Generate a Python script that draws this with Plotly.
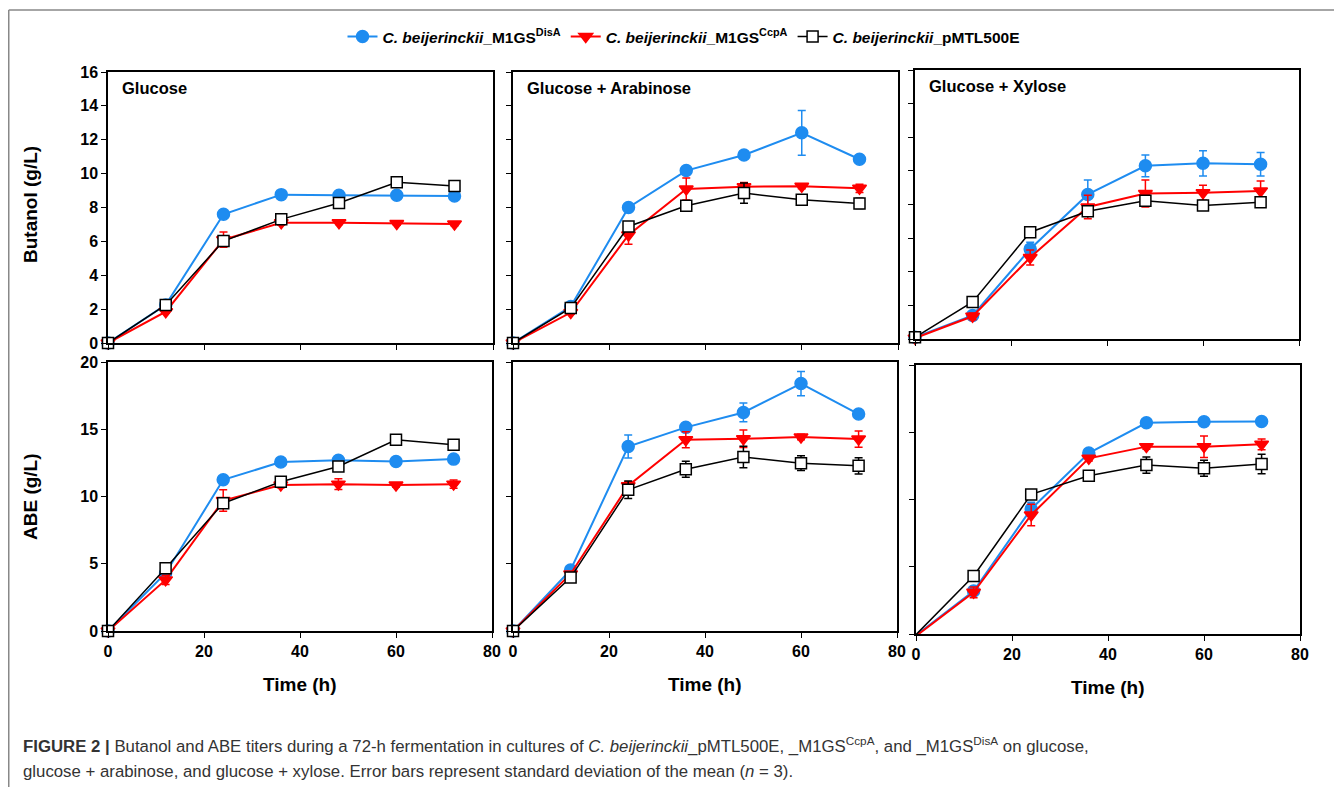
import plotly.graph_objects as go

# ---------------- data ----------------
time_h = [0, 12, 24, 36, 48, 60, 72]
strains = ["DisA", "CcpA", "pMTL500E"]
legend_names = [
    "<b><i>C. beijerinckii</i>_M1GS<sup>DisA</sup></b>",
    "<b><i>C. beijerinckii</i>_M1GS<sup>CcpA</sup></b>",
    "<b><i>C. beijerinckii</i>_pMTL500E</b>",
]
panel_titles = ["Glucose", "Glucose + Arabinose", "Glucose + Xylose"]

# Butanol (g/L)
but_glc_disa = [0, 2.25, 7.6, 8.76, 8.72, 8.72, 8.68]
but_glc_disa_sd = [0, 0.1, 0.15, 0.15, 0.2, 0.2, 0.2]
but_glc_ccpa = [0, 1.85, 6.1, 7.1, 7.1, 7.05, 7.02]
but_glc_ccpa_sd = [0, 0.1, 0.45, 0.15, 0.1, 0.1, 0.1]
but_glc_pmtl = [0, 2.25, 6.02, 7.3, 8.27, 9.49, 9.27]
but_glc_pmtl_sd = [0, 0.1, 0.2, 0.1, 0.1, 0.1, 0.15]

but_ara_disa = [0, 2.15, 8.0, 10.18, 11.1, 12.41, 10.85]
but_ara_disa_sd = [0, 0.1, 0.1, 0.15, 0.1, 1.32, 0.1]
but_ara_ccpa = [0, 1.8, 6.38, 9.09, 9.23, 9.25, 9.13]
but_ara_ccpa_sd = [0, 0.1, 0.55, 0.65, 0.25, 0.15, 0.25]
but_ara_pmtl = [0, 2.07, 6.88, 8.1, 8.85, 8.46, 8.24]
but_ara_pmtl_sd = [0, 0.1, 0.2, 0.3, 0.6, 0.15, 0.3]

but_xyl_disa = [0.1, 1.4, 5.35, 8.6, 10.3, 10.45, 10.4]
but_xyl_disa_sd = [0, 0.1, 0.4, 0.85, 0.65, 0.75, 0.7]
but_xyl_ccpa = [0.05, 1.35, 4.85, 7.85, 8.65, 8.7, 8.8]
but_xyl_ccpa_sd = [0, 0.2, 0.45, 0.7, 0.8, 0.45, 0.6]
but_xyl_pmtl = [0.1, 2.2, 6.35, 7.6, 8.22, 7.94, 8.14]
but_xyl_pmtl_sd = [0, 0.1, 0.1, 0.15, 0.3, 0.15, 0.25]

# ABE (g/L)
abe_glc_disa = [0, 4.3, 11.24, 12.56, 12.7, 12.6, 12.78]
abe_glc_disa_sd = [0, 0.3, 0.2, 0.15, 0.2, 0.15, 0.15]
abe_glc_ccpa = [0, 3.8, 9.7, 10.85, 10.92, 10.85, 10.92]
abe_glc_ccpa_sd = [0, 0.35, 0.8, 0.2, 0.4, 0.15, 0.3]
abe_glc_pmtl = [0, 4.67, 9.5, 11.1, 12.23, 14.22, 13.85]
abe_glc_pmtl_sd = [0, 0.1, 0.15, 0.1, 0.1, 0.1, 0.1]

abe_ara_disa = [0, 4.54, 13.72, 15.14, 16.25, 18.4, 16.13]
abe_ara_disa_sd = [0, 0.1, 0.85, 0.3, 0.7, 0.9, 0.15]
abe_ara_ccpa = [0, 4.24, 10.8, 14.22, 14.29, 14.42, 14.27]
abe_ara_ccpa_sd = [0, 0.1, 0.3, 0.6, 0.65, 0.2, 0.6]
abe_ara_pmtl = [0, 3.97, 10.5, 12.03, 12.93, 12.48, 12.28]
abe_ara_pmtl_sd = [0, 0.1, 0.65, 0.6, 0.8, 0.55, 0.6]

abe_xyl_disa = [-0.1, 3.2, 9.3, 13.45, 15.7, 15.78, 15.8]
abe_xyl_disa_sd = [0, 0.2, 0.5, 0.15, 0.2, 0.2, 0.1]
abe_xyl_ccpa = [-0.15, 3.1, 8.85, 13.06, 13.93, 13.93, 14.1]
abe_xyl_ccpa_sd = [0, 0.4, 0.8, 0.2, 0.2, 0.8, 0.4]
abe_xyl_pmtl = [-0.05, 4.31, 10.38, 11.77, 12.56, 12.32, 12.64]
abe_xyl_pmtl_sd = [0, 0.1, 0.3, 0.15, 0.6, 0.6, 0.72]

butanol_ticks = [0, 2, 4, 6, 8, 10, 12, 14, 16]
abe_ticks = [0, 5, 10, 15, 20]
time_ticks = [0, 20, 40, 60, 80]

# ---------------- figure ----------------
# The page body has an 8px margin, so the figure is 8px smaller than the window
# and all layout positions are given in window pixels minus that offset.
OFF = 8
W, H = 1342 - OFF, 787 - OFF
BLUE = "#1E8CF0"
RED = "#FF0000"
BLACK = "#000000"
FONT = "Liberation Sans, Arial, sans-serif"


def px(x):
    return (x - OFF) / W


def py(y):
    return 1 - (y - OFF) / H


panels = [
    ([(but_glc_disa, but_glc_disa_sd), (but_glc_ccpa, but_glc_ccpa_sd), (but_glc_pmtl, but_glc_pmtl_sd)],
     (108, 493), (72, 343), panel_titles[0], True),
    ([(but_ara_disa, but_ara_disa_sd), (but_ara_ccpa, but_ara_ccpa_sd), (but_ara_pmtl, but_ara_pmtl_sd)],
     (513, 898), (72, 343), panel_titles[1], True),
    ([(but_xyl_disa, but_xyl_disa_sd), (but_xyl_ccpa, but_xyl_ccpa_sd), (but_xyl_pmtl, but_xyl_pmtl_sd)],
     (915, 1299), (70, 339), panel_titles[2], True),
    ([(abe_glc_disa, abe_glc_disa_sd), (abe_glc_ccpa, abe_glc_ccpa_sd), (abe_glc_pmtl, abe_glc_pmtl_sd)],
     (108, 492), (362, 631), None, False),
    ([(abe_ara_disa, abe_ara_disa_sd), (abe_ara_ccpa, abe_ara_ccpa_sd), (abe_ara_pmtl, abe_ara_pmtl_sd)],
     (513, 897), (362, 631), None, False),
    ([(abe_xyl_disa, abe_xyl_disa_sd), (abe_xyl_ccpa, abe_xyl_ccpa_sd), (abe_xyl_pmtl, abe_xyl_pmtl_sd)],
     (916, 1300), (365, 634), None, False),
]

styles = [
    dict(color=BLUE, symbol="circle", fill=BLUE, size=12, lw=2),
    dict(color=RED, symbol="triangle-down", fill=RED, size=12, lw=2),
    dict(color=BLACK, symbol="square", fill="white", size=11, lw=1.5),
]

fig = go.Figure()
layout = dict()
annotations = []

for i, (series, xd, yd, title, is_top) in enumerate(panels):
    n = i + 1
    xa = "x" if n == 1 else f"x{n}"
    ya = "y" if n == 1 else f"y{n}"
    for k, ((vals, sd), st) in enumerate(zip(series, styles)):
        fig.add_trace(go.Scatter(
            x=time_h, y=vals, xaxis=xa, yaxis=ya,
            mode="lines+markers",
            name=legend_names[k],
            legendgroup=strains[k],
            showlegend=(i == 0),
            cliponaxis=False,
            line=dict(color=st["color"], width=st["lw"]),
            marker=dict(symbol=st["symbol"], size=st["size"], color=st["fill"],
                        line=dict(color=st["color"], width=1.5)),
            error_y=dict(type="data", array=sd, visible=True, color=st["color"],
                         thickness=1.5, width=4),
        ))
    common = dict(showline=True, mirror=True, linecolor="black", linewidth=1.5,
                  ticks="outside", ticklen=5, tickwidth=1.2, tickcolor="black",
                  showgrid=False, zeroline=False, automargin=False,
                  tickfont=dict(family=FONT, size=16, color="black", weight="bold"))
    layout["xaxis" if n == 1 else f"xaxis{n}"] = dict(
        common, domain=[px(xd[0]), px(xd[1])], anchor=ya, range=[0, 80],
        tickvals=time_ticks, showticklabels=not is_top)
    layout["yaxis" if n == 1 else f"yaxis{n}"] = dict(
        common, domain=[py(yd[1]), py(yd[0])], anchor=xa,
        range=[0, 16] if is_top else [0, 20],
        tickvals=butanol_ticks if is_top else abe_ticks,
        showticklabels=(n in (1, 4)))
    if title:
        annotations.append(dict(text=f"<b>{title}</b>", xref="paper", yref="paper",
                                x=px(xd[0] + 12), y=py(yd[0] + 16), xanchor="left",
                                yanchor="middle", showarrow=False,
                                font=dict(family=FONT, size=16.5, color="black")))
    if not is_top:
        annotations.append(dict(text="<b>Time (h)</b>", xref="paper", yref="paper",
                                x=px((xd[0] + xd[1]) / 2), y=py(yd[1] + 53),
                                xanchor="center", yanchor="middle", showarrow=False,
                                font=dict(family=FONT, size=19, color="black")))

annotations.append(dict(text="<b>Butanol (g/L)</b>", xref="paper", yref="paper",
                        x=px(31), y=py(205), textangle=-90, showarrow=False,
                        xanchor="center", yanchor="middle",
                        font=dict(family=FONT, size=19, color="black")))
annotations.append(dict(text="<b>ABE (g/L)</b>", xref="paper", yref="paper",
                        x=px(31), y=py(497), textangle=-90, showarrow=False,
                        xanchor="center", yanchor="middle",
                        font=dict(family=FONT, size=19, color="black")))

caption1 = ("<b>FIGURE 2 |</b> Butanol and ABE titers during a 72-h fermentation in cultures of "
            "<i>C. beijerinckii</i>_pMTL500E, _M1GS<sup>CcpA</sup>, and _M1GS<sup>DisA</sup> on glucose,")
caption2 = ("glucose + arabinose, and glucose + xylose. Error bars represent standard deviation "
            "of the mean (<i>n</i> = 3).")
annotations.append(dict(text=caption1, xref="paper", yref="paper", x=px(21), y=py(745),
                        xanchor="left", yanchor="middle", showarrow=False,
                        font=dict(family=FONT, size=16.8, color="#333333")))
annotations.append(dict(text=caption2, xref="paper", yref="paper", x=px(21), y=py(771),
                        xanchor="left", yanchor="middle", showarrow=False,
                        font=dict(family=FONT, size=16.8, color="#333333")))

shapes = [
    dict(type="line", xref="paper", yref="paper", x0=0.75 / W, x1=1, y0=py(10), y1=py(10),
         line=dict(color="#888888", width=1.5)),
    dict(type="line", xref="paper", yref="paper", x0=0.75 / W, x1=0.75 / W, y0=py(10), y1=0,
         line=dict(color="#888888", width=1.5)),
]

fig.update_layout(
    **layout,
    width=W, height=H,
    margin=dict(l=0, r=0, t=0, b=0, autoexpand=False),
    paper_bgcolor="white", plot_bgcolor="white",
    annotations=annotations, shapes=shapes,
    showlegend=True,
    legend=dict(orientation="h", x=px(684), y=py(37), xanchor="center", yanchor="middle",
                font=dict(family=FONT, size=15.5, color="black"),
                bgcolor="rgba(0,0,0,0)", itemwidth=30, tracegroupgap=0),
)

fig.write_html("out.html")
